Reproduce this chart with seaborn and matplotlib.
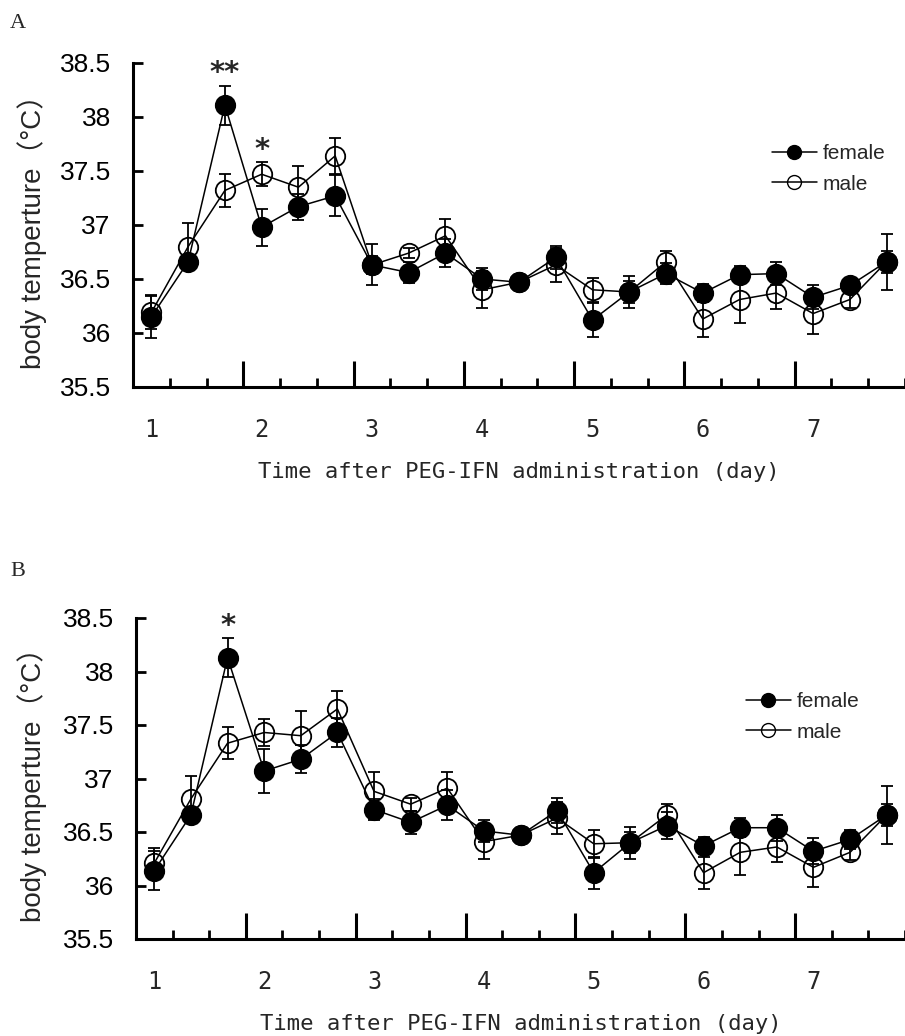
import pandas as pd
import matplotlib.pyplot as plt
from matplotlib.lines import Line2D
import seaborn as sns

# Mean body temperature (3 readings per day over 7 days)
days = ['1', '2', '3', '4', '5', '6', '7']
points_per_day = 3

# Panel A
female_a = [36.15, 36.66, 38.11, 36.98, 37.17, 37.27, 36.63, 36.56, 36.74, 36.50, 36.47,
            36.70, 36.12, 36.38, 36.55, 36.37, 36.54, 36.55, 36.33, 36.44, 36.66]
male_a = [36.19, 36.80, 37.32, 37.47, 37.35, 37.64, 36.63, 36.74, 36.90, 36.40, 36.47,
          36.63, 36.40, 36.38, 36.66, 36.13, 36.31, 36.37, 36.18, 36.31, 36.66]
female_a_err = [0.20, 0.05, 0.18, 0.17, 0.12, 0.19, 0.19, 0.10, 0.13, 0.10, 0.06,
                0.11, 0.16, 0.15, 0.10, 0.08, 0.08, 0.11, 0.11, 0.07, 0.26]
male_a_err = [0.15, 0.22, 0.15, 0.11, 0.20, 0.17, 0.08, 0.05, 0.16, 0.17, 0.05,
              0.16, 0.11, 0.10, 0.10, 0.17, 0.22, 0.15, 0.19, 0.08, 0.10]
sig_a = {2: '**', 3: '*'}

# Panel B
female_b = [36.14, 36.66, 38.13, 37.07, 37.18, 37.43, 36.71, 36.59, 36.75, 36.51, 36.47,
            36.70, 36.12, 36.40, 36.56, 36.37, 36.54, 36.54, 36.32, 36.43, 36.66]
male_b = [36.21, 36.81, 37.33, 37.43, 37.40, 37.65, 36.88, 36.76, 36.91, 36.41, 36.47,
          36.63, 36.39, 36.40, 36.66, 36.12, 36.31, 36.36, 36.17, 36.31, 36.66]
female_b_err = [0.18, 0.05, 0.18, 0.21, 0.13, 0.14, 0.10, 0.11, 0.14, 0.10, 0.06,
                0.12, 0.15, 0.15, 0.13, 0.08, 0.09, 0.12, 0.12, 0.09, 0.27]
male_b_err = [0.14, 0.21, 0.15, 0.13, 0.23, 0.17, 0.18, 0.06, 0.15, 0.16, 0.05,
              0.15, 0.13, 0.10, 0.10, 0.15, 0.21, 0.14, 0.18, 0.07, 0.10]
sig_b = {2: '*'}

sns.set_theme(style='white')
plt.rcParams['font.family'] = ['Liberation Sans', 'DejaVu Sans']
plt.rcParams['axes.edgecolor'] = 'black'

SANS = ['Liberation Sans', 'Noto Sans CJK JP', 'DejaVu Sans']
MONO = ['DejaVu Sans Mono']
SERIF = ['Liberation Serif', 'DejaVu Serif']

fig = plt.figure(figsize=(9.05, 10.36), dpi=100)
W, H = 905, 1036


def draw_panel(rect_px, female, male, ferr, merr, sig, legend_px, letter, letter_px):
    left, top, right, bottom = rect_px
    ax = fig.add_axes([left / W, 1 - bottom / H, (right - left) / W, (bottom - top) / H])
    n = len(female)
    x = list(range(n))
    df = pd.DataFrame({'point': x * 2,
                       'temp': female + male,
                       'err': ferr + merr,
                       'sex': ['female'] * n + ['male'] * n})

    for sex, face in [('female', 'black'), ('male', 'none')]:
        sub = df[df['sex'] == sex]
        ax.errorbar(sub['point'], sub['temp'], yerr=sub['err'], fmt='none',
                    ecolor='black', elinewidth=1.3, capsize=4.5, capthick=1.3, zorder=2)
        sns.lineplot(data=sub, x='point', y='temp', ax=ax, color='black',
                     linewidth=1.1, marker='o', markersize=14,
                     markerfacecolor=face, markeredgecolor='black',
                     markeredgewidth=1.3, legend=False, errorbar=None, zorder=3)

    # significance marks
    for i, mark in sig.items():
        top_val = max(female[i] + ferr[i], male[i] + merr[i])
        ax.text(i, top_val + 0.04, mark, ha='center', va='baseline', fontsize=21,
                fontweight='bold', family=['DejaVu Sans'])

    ax.set_ylim(35.5, 38.5)
    ax.set_xlim(-0.5, -0.5 + (right - left) / 37.1)
    ax.set_yticks([35.5, 36, 36.5, 37, 37.5, 38, 38.5])
    ax.set_yticklabels(['35.5', '36', '36.5', '37', '37.5', '38', '38.5'])
    ax.tick_params(axis='y', direction='in', length=7, width=2, pad=16,
                   labelsize=19, left=True, colors='black')

    major = [d * points_per_day - 0.5 for d in range(1, len(days))]
    minor = [p + 0.5 for p in range(n) if (p + 0.5) not in major]
    ax.set_xticks(major)
    ax.set_xticklabels([])
    ax.set_xticks(minor, minor=True)
    ax.tick_params(axis='x', which='major', direction='in', length=18.5, width=2.2,
                   bottom=True, colors='black')
    ax.tick_params(axis='x', which='minor', direction='in', length=6.5, width=2.0,
                   bottom=True, colors='black')

    sec = ax.secondary_xaxis('bottom')
    sec.set_xticks([d * points_per_day for d in range(len(days))], labels=days)
    sec.tick_params(length=0, pad=22)
    for lab in sec.get_xticklabels():
        lab.set_fontfamily(MONO)
        lab.set_fontsize(17)
    sec.spines['bottom'].set_visible(False)

    ax.set_xlabel('Time after PEG-IFN administration (day)', fontsize=16,
                  family=MONO, va='center')
    ax.xaxis.set_label_coords(0.5, -85 / (bottom - top))
    ax.set_ylabel('body temperture（°C）', fontsize=20, family=SANS, va='center')
    ax.yaxis.set_label_coords((32 - left) / (right - left), 0.5)

    for s in ['top', 'right']:
        ax.spines[s].set_visible(False)
    for s in ['left', 'bottom']:
        ax.spines[s].set_linewidth(2.2)
        ax.spines[s].set_color('black')

    handles = [Line2D([], [], color='black', lw=1.1, marker='o', markersize=10,
                      markerfacecolor='black', markeredgecolor='black'),
               Line2D([], [], color='black', lw=1.1, marker='o', markersize=10,
                      markerfacecolor='none', markeredgecolor='black')]
    ax.legend(handles, ['female', 'male'], loc='center left',
              bbox_to_anchor=(legend_px[0] / W, 1 - legend_px[1] / H),
              bbox_transform=fig.transFigure, frameon=False, borderpad=0,
              borderaxespad=0, handlelength=2.15, handletextpad=0.3,
              labelspacing=0.55, fontsize=15)

    fig.text(letter_px[0] / W, 1 - letter_px[1] / H, letter, family=SERIF,
             fontsize=16, ha='center', va='center')
    return ax


draw_panel((133, 63, 905, 387), female_a, male_a, female_a_err, male_a_err, sig_a,
           (772, 169), 'A', (18, 23))
draw_panel((136, 618, 905, 939), female_b, male_b, female_b_err, male_b_err, sig_b,
           (746, 717), 'B', (18, 572))

fig.savefig('out.png', dpi=100)
